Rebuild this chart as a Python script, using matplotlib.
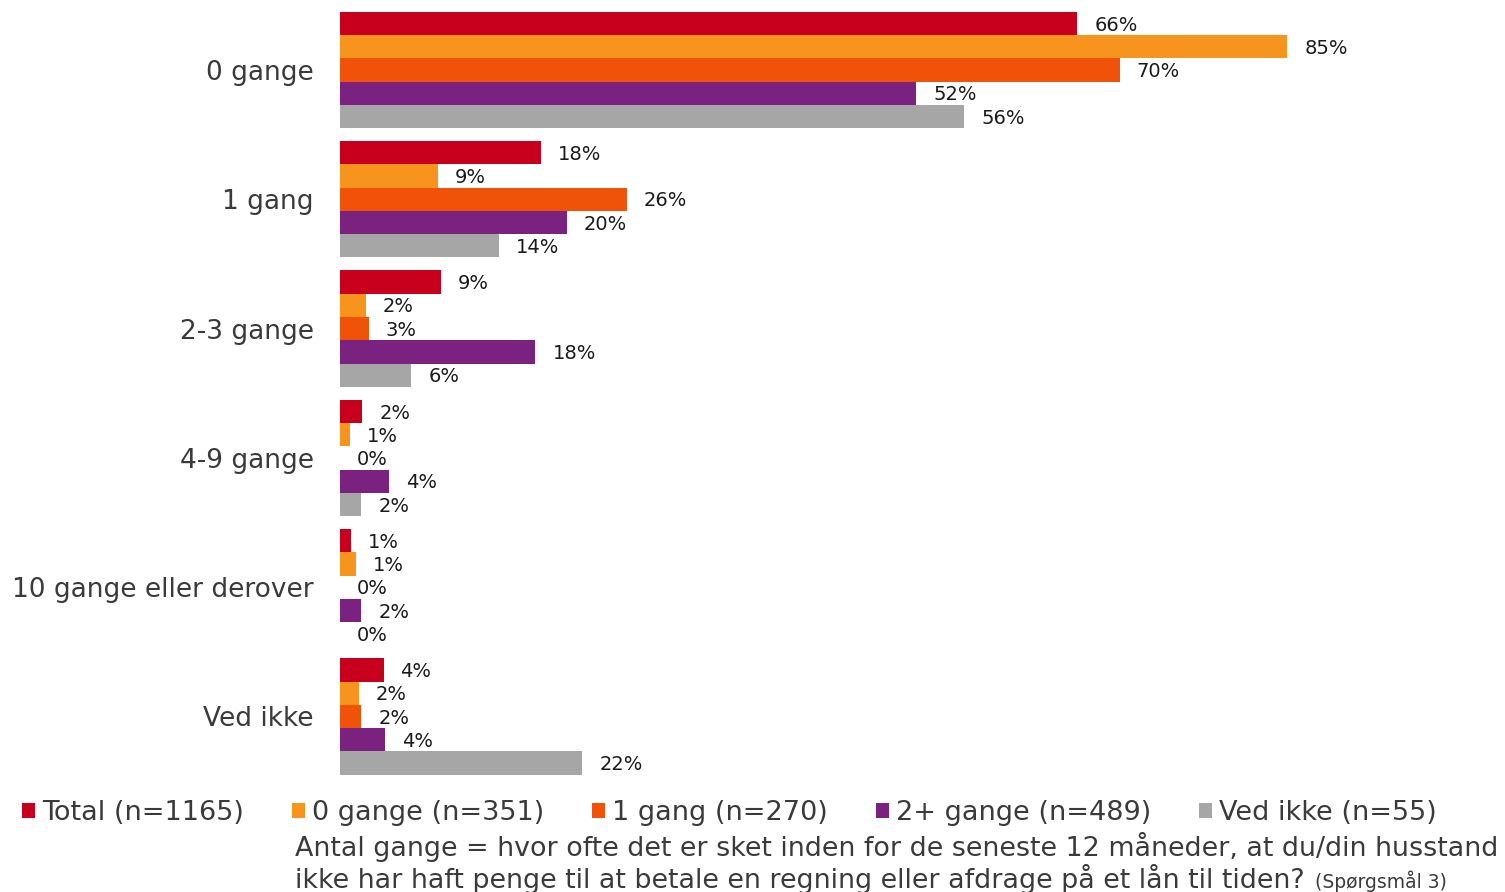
import matplotlib
matplotlib.use("Agg")
import matplotlib.pyplot as plt
import numpy as np

plt.rcParams['font.family'] = ['DejaVu Sans']

categories = ["0 gange", "1 gang", "2-3 gange", "4-9 gange", "10 gange eller derover", "Ved ikke"]
series_names = ["Total (n=1165)", "0 gange (n=351)", "1 gang (n=270)", "2+ gange (n=489)", "Ved ikke (n=55)"]
total = [66.0, 18.0, 9.0, 2.0, 1.0, 3.9]
gange0 = [84.8, 8.8, 2.3, 0.9, 1.4, 1.7]
gang1 = [69.8, 25.7, 2.6, 0.0, 0.0, 1.9]
gange2plus = [51.6, 20.3, 17.5, 4.4, 1.9, 4.0]
vedikke = [55.9, 14.2, 6.4, 1.9, 0.0, 21.7]
series_values = [total, gange0, gang1, gange2plus, vedikke]
colors = ["#C8001E", "#F7941E", "#F0520A", "#7B2280", "#A6A6A6"]

W, H = 1505, 892
fig = plt.figure(figsize=(W / 100, H / 100), dpi=100)
ax = fig.add_axes([340 / W, 1 - 781.15 / H, (1457 - 340) / W, (781.15 - 5.35) / H])

y = np.arange(len(categories))
bh = 0.18
handles = []
for j, (vals, col) in enumerate(zip(series_values, colors)):
    pos = y - 0.36 + bh * j
    bars = ax.barh(pos, vals, height=bh, color=col, edgecolor='none', label=series_names[j])
    handles.append(bars)
    for p, v in zip(pos, vals):
        ax.annotate(f"{round(v):d}%", xy=(v, p), xytext=(12.2, -1.2), textcoords='offset points',
                    ha='left', va='center', fontsize=14, color='#1a1a1a')

ax.set_xlim(0, 100)
ax.set_ylim(5.5, -0.5)
ax.set_yticks(y)
ax.set_yticklabels(categories, fontsize=19, color='#3a3a3a')
ax.tick_params(axis='y', length=0, pad=19)
ax.set_xticks([])
for s in ax.spines.values():
    s.set_visible(False)

leg = fig.legend(handles=handles, labels=series_names, loc='center left',
                 bbox_to_anchor=(22 / W, 1 - 813 / H), ncol=5, frameon=False,
                 fontsize=19.5, handlelength=0.48, handleheight=0.48, handletextpad=0.26,
                 columnspacing=1.77, borderaxespad=0, borderpad=0)
for t in leg.get_texts():
    t.set_color('#3a3a3a')

fig.text(295 / W, 1 - 847 / H, "Antal gange = hvor ofte det er sket inden for de seneste 12 måneder, at du/din husstand",
         fontsize=19.4, color='#3a3a3a', ha='left', va='center')
t2 = fig.text(295 / W, 1 - 879 / H, "ikke har haft penge til at betale en regning eller afdrage på et lån til tiden?",
              fontsize=19.4, color='#3a3a3a', ha='left', va='center')
fig.canvas.draw()
bb = t2.get_window_extent()
fig.text((bb.x1 + 10) / W, 1 - 881 / H, "(Spørgsmål 3)", fontsize=13.5, color='#3a3a3a', ha='left', va='center')

fig.savefig("out.png", dpi=100, facecolor='white')
